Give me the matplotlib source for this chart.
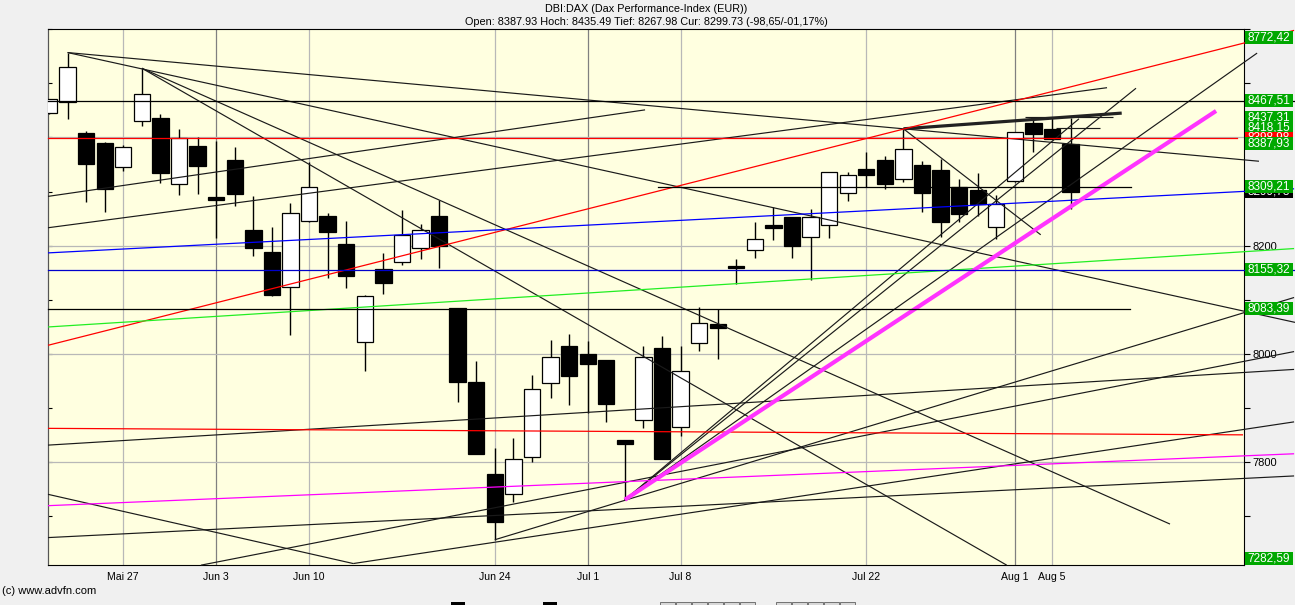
import matplotlib
matplotlib.use("Agg")
import matplotlib.pyplot as plt
import matplotlib.transforms as mtransforms
from matplotlib.patches import Rectangle
import pandas as pd

plt.rcParams['font.family'] = ['Liberation Sans', 'DejaVu Sans']

# trading days shown (index 0 = 21 May 2013)
dates = pd.bdate_range('2013-05-21', '2013-08-06')

opens = [8445, 8466, 8408, 8390, 8345, 8431, 8436, 8314, 8384, 8290,
         8358, 8229, 8189, 8124, 8246, 8255, 8203, 8022, 8157, 8170,
         8196, 8254, 8085, 7947, 7777, 7741, 7809, 7946, 8015, 8000,
         7989, 7841, 7878, 8010, 7865, 8020, 8055, 8162, 8192, 8238,
         8252, 8216, 8238, 8297, 8342, 8358, 8323, 8349, 8340, 8308,
         8302, 8234, 8320, 8427, 8416, 8387.93]
highs = [8472, 8557, 8411, 8391, 8386, 8528, 8443, 8416, 8401, 8394,
         8383, 8292, 8235, 8279, 8354, 8261, 8246, 8109, 8187, 8265,
         8240, 8285, 8085, 7987, 7825, 7844, 7960, 8026, 8037, 8023,
         7989, 7841, 8015, 8032, 8015, 8087, 8083, 8176, 8244, 8271,
         8252, 8268, 8336, 8337, 8374, 8365, 8416, 8357, 8361, 8324,
         8334, 8294, 8410, 8436, 8436, 8435.49]
lows = [8444, 8434, 8280, 8262, 8338, 8422, 8316, 8294, 8295, 8214,
        8273, 8180, 8106, 8034, 8244, 8140, 8121, 7968, 8110, 8165,
        8175, 8158, 7910, 7814, 7656, 7726, 7799, 7918, 7905, 7891,
        7873, 7730, 7862, 7805, 7848, 8005, 7990, 8129, 8177, 8211,
        8177, 8137, 8214, 8282, 8309, 8305, 8317, 8263, 8215, 8243,
        8254, 8213, 8318, 8374, 8397, 8267.98]
closes = [8471, 8530, 8350, 8304, 8382, 8480, 8335, 8399, 8347, 8284,
          8295, 8195, 8108, 8260, 8309, 8225, 8143, 8107, 8130, 8220,
          8229, 8199, 7947, 7814, 7689, 7806, 7935, 7994, 7958, 7981,
          7907, 7833, 7994, 7805, 7968, 8057, 8048, 8158, 8212, 8233,
          8199, 8253, 8336, 8331, 8331, 8313, 8379, 8297, 8243, 8258,
          8277, 8276, 8410, 8406, 8397, 8299.73]

tick_dates = ['2013-05-27', '2013-06-03', '2013-06-10', '2013-06-24', '2013-07-01',
              '2013-07-08', '2013-07-22', '2013-08-01', '2013-08-05']
tick_labels = ['Mai 27', 'Jun 3', 'Jun 10', 'Jun 24', 'Jul 1', 'Jul 8', 'Jul 22', 'Aug 1', 'Aug 5']
month_starts = ['2013-06-03', '2013-07-01', '2013-08-01']

# drawn trend lines, (day index, price) -> (day index, price)
black_lines = [
    ((1, 8557), (65.14, 8356)),
    ((1, 8557), (67.08, 8058)),
    ((5, 8528), (60.35, 7685)),
    ((5, 8528), (51.56, 7609)),
    ((-0.054, 8291), (32.09, 8451)),
    ((-0.054, 8233), (56.96, 8492)),
    ((-0.054, 7831), (67.03, 7971)),
    ((-0.054, 7660), (67.03, 7774)),
    ((-0.054, 7740), (16.38, 7612)),
    ((16.38, 7612), (67.03, 7874)),
    ((8.18, 7609), (67.03, 8004)),
    ((24, 7656), (67.03, 8104)),
    ((31, 7730), (58.52, 8491)),
    ((31, 7730), (55.45, 8434.5)),
    ((31, 7730), (65.04, 8556)),
    ((46, 8416), (53.39, 8220)),
    ((52.55, 8437.31), (57.3, 8437.31)),
    ((54.22, 8418.15), (56.58, 8418.15)),
]
thick_black = [((46, 8416), (57.75, 8445))]
magenta_thick = [((31, 7730), (62.83, 8449))]
magenta_thin = [((-0.054, 7719), (67.03, 7815))]
red_lines = [((-0.054, 8015.6), (67.03, 8598)),
             ((-0.054, 7862), (64.28, 7850))]
blue_lines = [((-0.054, 8186.5), (67.03, 8305))]
green_lines = [((-0.054, 8049.5), (67.03, 8194.5))]

# horizontal levels: value, start index, end index, colour
levels = [(8467.51, -0.054, 67.03, 'black'),
          (8398.98, -0.054, 63.96, 'red'),
          (8309.21, 32.79, 58.25, 'black'),
          (8155.32, -0.054, 67.03, '#0000cc'),
          (8083.39, -0.054, 58.2, 'black')]

# price tags on the right edge: position, text, colour (later ones cover earlier)
tags = [(8584, '8772,42', '#00a800'),
        (8467.51, '8467,51', '#00a800'),
        (8437.31, '8437,31', '#00a800'),
        (8418.15, '8418,15', '#00a800'),
        (8398.98, '8398,98', '#ff0000'),
        (8387.93, '8387,93', '#00a800'),
        (8299.73, '8299,73', '#000000'),
        (8309.21, '8309,21', '#00a800'),
        (8155.32, '8155,32', '#00a800'),
        (8083.39, '8083,39', '#00a800'),
        (7622, '7282,59', '#00a800')]

W, H = 1295, 605
fig = plt.figure(figsize=(W / 100, H / 100), dpi=100, facecolor='#f0f0f0')
ax = fig.add_axes([48 / W, 1 - 565 / H, (1244.3 - 48) / W, (565 - 29.3) / H])
ax.set_facecolor('#ffffe0')
ax.set_xlim(-0.054, 64.35)
ax.set_ylim(7609.3, 8598.2)

# grid
for d in tick_dates:
    c = '#808080' if d in month_starts else '#b8b8b8'
    ax.axvline(dates.get_loc(pd.Timestamp(d)), color=c, lw=0.9, zorder=1)
for v in [7800, 8000, 8200, 8400]:
    ax.axhline(v, color='#b8b8b8', lw=0.9, zorder=1)

# candles
x = range(len(dates))
ax.vlines(x, lows, highs, color='black', lw=1.0, zorder=3)
body_lo = [min(o, c) for o, c in zip(opens, closes)]
body_h = [abs(c - o) for o, c in zip(opens, closes)]
fills = ['white' if c > o else 'black' for o, c in zip(opens, closes)]
ax.bar(x, body_h, bottom=body_lo, width=0.88, color=fills, edgecolor='black',
       linewidth=0.9, zorder=4)


def draw(lines, color, lw):
    for (x0, y0), (x1, y1) in lines:
        ax.plot([x0, x1], [y0, y1], color=color, lw=lw, zorder=5,
                clip_on=False, solid_capstyle='butt')


draw(black_lines, '#1a1a1a', 0.85)
draw(thick_black, '#222222', 2.3)
draw(magenta_thin, '#ff00ff', 0.9)
draw(red_lines, '#ff0000', 0.9)
draw(blue_lines, '#0000ff', 0.9)
draw(green_lines, '#22ee22', 0.9)
draw(magenta_thick, '#ff33ff', 3.0)
for v, x0, x1, c in levels:
    ax.plot([x0, x1], [v, v], color=c, lw=0.9, zorder=5, clip_on=False)

# axes styling
for s in ['top', 'right', 'bottom']:
    ax.spines[s].set_color('black')
ax.spines['left'].set_color('#555555')
ax.set_xticks([dates.get_loc(pd.Timestamp(d)) for d in tick_dates])
ax.set_xticklabels(tick_labels, fontsize=7.6)
ax.tick_params(axis='x', length=0, pad=5)
ax.yaxis.tick_right()
yt = list(range(7700, 8700, 100))
ax.set_yticks(yt)
ax.set_yticklabels([str(v) if v in (7800, 8000, 8200) else '' for v in yt], fontsize=8)
ax.tick_params(axis='y', direction='out', length=4, pad=2)
sec = ax.secondary_yaxis('left')
sec.set_yticks(yt)
sec.tick_params(direction='in', length=3, labelleft=False)
sec.spines['left'].set_color('#555555')

# price tags, each box covers the text of the ones before it
trans = mtransforms.blended_transform_factory(fig.transFigure, ax.transData)
box_h = 13 * 1.846
for k, (v, txt, c) in enumerate(tags):
    z = 10 + 2 * k
    ax.add_patch(Rectangle((1245 / W, v - box_h / 2), 48 / W, box_h, transform=trans,
                           facecolor=c, edgecolor='none', clip_on=False, zorder=z))
    ax.text(1247 / W, v, txt, transform=trans, color='white', fontsize=8.5,
            va='center', ha='left', clip_on=False, zorder=z + 1)

fig.text(646 / W, 1 - 9 / H, 'DBI:DAX (Dax Performance-Index (EUR))', ha='center',
         va='center', fontsize=7.8)
fig.text(646 / W, 1 - 22 / H,
         'Open: 8387.93 Hoch: 8435.49 Tief: 8267.98 Cur: 8299.73 (-98,65/-01,17%)',
         ha='center', va='center', fontsize=7.8)
fig.text(2 / W, 1 - 591 / H, '(c) www.advfn.com', ha='left', va='center', fontsize=8)

# cut-off toolbar icons along the bottom edge
for bx in [451, 543]:
    fig.patches.append(Rectangle((bx / W, 0), 14 / W, 3 / H, transform=fig.transFigure,
                                 facecolor='black', edgecolor='none'))
for k in range(11):
    bx = 660 + 16 * k + (20 if k > 5 else 0)
    fig.patches.append(Rectangle((bx / W, 0), 15 / W, 3 / H, transform=fig.transFigure,
                                 facecolor='#d8d8d8', edgecolor='#606060', lw=0.6))

fig.savefig('out.png', dpi=100, facecolor=fig.get_facecolor())
